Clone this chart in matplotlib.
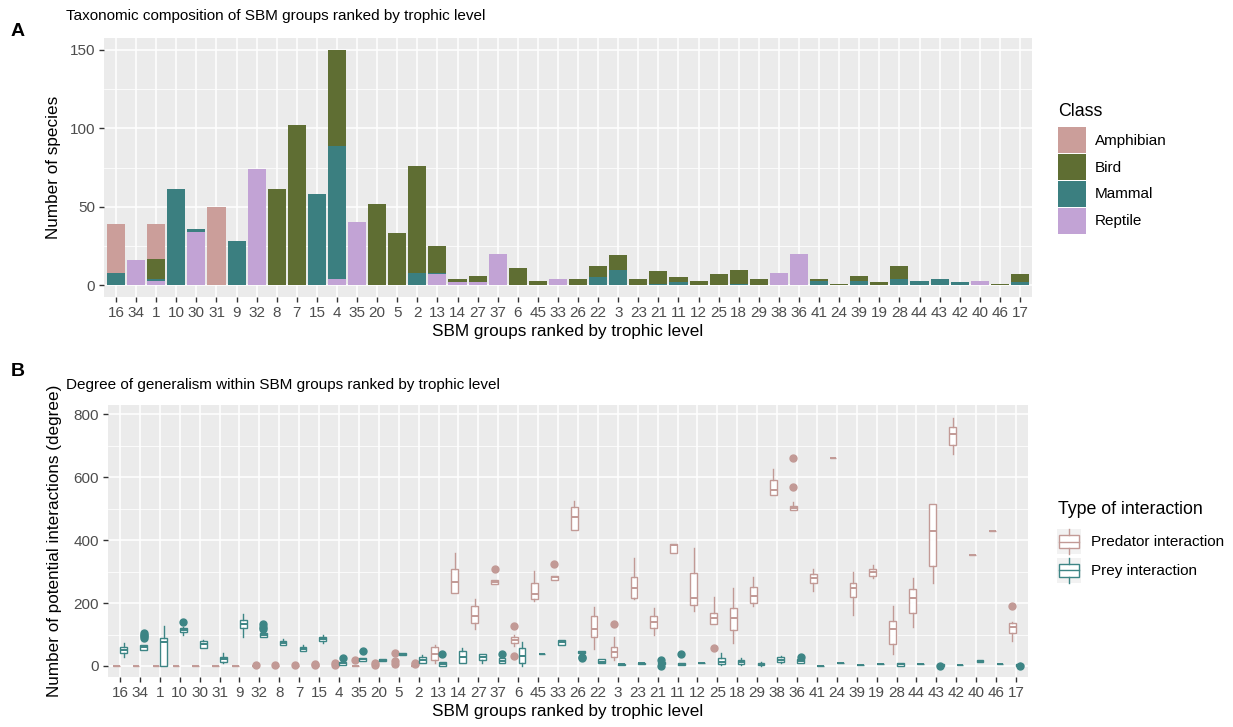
import matplotlib
matplotlib.use('Agg')
import matplotlib.pyplot as plt
from matplotlib.patches import Patch, Rectangle
from matplotlib.lines import Line2D
from matplotlib.legend_handler import HandlerBase
from matplotlib.ticker import MultipleLocator

plt.rcParams['font.family'] = ['Liberation Sans', 'DejaVu Sans']

# SBM groups ranked by trophic level
groups = ['16', '34', '1', '10', '30', '31', '9', '32', '8', '7', '15', '4', '35', '20', '5', '2',
          '13', '14', '27', '37', '6', '45', '33', '26', '22', '3', '23', '21', '11', '12', '25',
          '18', '29', '38', '36', '41', '24', '39', '19', '28', '44', '43', '42', '40', '46', '17']

# panel A: species per class
amphibian = [31, 0, 22, 0, 0, 50, 0, 0, 0, 0, 0, 0, 0, 0, 0, 0,
             0, 0, 0, 0, 0, 0, 0, 0, 0, 0, 0, 0, 0, 0, 0,
             0, 0, 0, 0, 0, 0, 0, 0, 0, 0, 0, 0, 0, 0, 0]
bird = [0, 0, 13, 0, 0, 0, 0, 0, 61, 102, 0, 61, 0, 52, 33, 68,
        17, 2, 4, 0, 11, 3, 0, 4, 7, 9, 4, 8, 3, 3, 7,
        9, 4, 0, 0, 1, 1, 3, 2, 8, 0, 0, 0, 0, 1, 5]
mammal = [8, 0, 1, 61, 2, 0, 28, 0, 0, 0, 58, 85, 0, 0, 0, 8,
          1, 0, 0, 0, 0, 0, 0, 0, 5, 10, 0, 1, 2, 0, 0,
          1, 0, 0, 0, 3, 0, 3, 0, 4, 3, 4, 2, 0, 0, 2]
reptile = [0, 16, 3, 0, 34, 0, 0, 74, 0, 0, 0, 4, 40, 0, 0, 0,
           7, 2, 2, 20, 0, 0, 4, 0, 0, 0, 0, 0, 0, 0, 0,
           0, 0, 8, 20, 0, 0, 0, 0, 0, 0, 0, 0, 3, 0, 0]

# panel B: degree boxplot stats (whisker low, q1, median, q3, whisker high, outliers)
pred_lo = [0, 0, 0, 0, 0, 0, 0, 0, 0, 0, 0, 0, 0, 0, 0, 0,
           8, 231, 117, 260, 64, 207, 275, 432, 53, 19, 212, 99, 358, 175, 134,
           74, 191, 544, 496, 237, 660, 162, 279, 38, 125, 263, 675, 353, 429, 81]
pred_q1 = [0, 0, 0, 0, 0, 0, 0, 0, 0, 0, 0, 0, 0, 0, 0, 0,
           19, 231, 138, 260, 74, 213, 275, 432, 91, 30, 215, 122, 358, 194, 134,
           114, 199, 544, 496, 263, 660, 218, 286, 70, 167, 319, 702, 353, 429, 104]
pred_med = [0, 0, 0, 0, 0, 0, 0, 0, 0, 0, 0, 0, 0, 0, 0, 0,
            38, 268, 159, 268, 83, 229, 282, 475, 118, 46, 247, 141, 385, 215, 152,
            152, 224, 559, 503, 279, 660, 247, 300, 117, 217, 429, 737, 353, 429, 125]
pred_q3 = [0, 0, 0, 0, 0, 0, 0, 0, 0, 0, 0, 0, 0, 0, 0, 0,
           59, 307, 192, 275, 91, 265, 287, 506, 159, 59, 284, 159, 388, 295, 167,
           183, 250, 591, 510, 291, 660, 263, 307, 144, 245, 514, 760, 353, 429, 136]
pred_hi = [0, 0, 0, 0, 0, 0, 0, 0, 0, 0, 0, 0, 0, 0, 0, 0,
           67, 360, 212, 275, 99, 303, 287, 525, 189, 93, 345, 183, 388, 376, 220,
           247, 284, 628, 522, 307, 660, 300, 321, 191, 279, 514, 790, 353, 429, 141]
pred_out = [[], [], [], [], [], [], [], [3], [2], [3], [2, 7], [4, 10], [20], [3, 8], [5, 15, 40], [5, 10],
            [], [], [], [307], [32, 127], [], [324], [], [], [132], [], [], [], [], [56],
            [], [], [], [570, 662], [], [], [], [], [], [], [], [], [], [], [192]]

prey_lo = [30, 51, 0, 98, 56, 8, 91, 91, 66, 48, 74, 3, 17, 17, 34, 11,
           0, 8, 8, 8, 0, 37, 67, 40, 8, 3, 5, 5, 3, 11, 3,
           3, 0, 8, 8, 1, 8, 2, 5, 0, 5, 0, 3, 12, 5, 0]
prey_q1 = [42, 51, 0, 109, 58, 13, 120, 91, 66, 48, 80, 3, 17, 17, 34, 11,
           0, 11, 19, 8, 8, 37, 67, 40, 8, 3, 5, 5, 3, 11, 5,
           5, 2, 12, 8, 1, 8, 2, 5, 0, 5, 0, 3, 12, 5, 0]
prey_med = [51, 59, 77, 113, 69, 21, 133, 98, 72, 54, 86, 8, 21, 20, 37, 19,
            5, 30, 30, 17, 33, 37, 75, 45, 14, 5, 8, 8, 5, 11, 14,
            12, 5, 20, 15, 1, 8, 2, 5, 5, 5, 2, 3, 16, 5, 2]
prey_q3 = [59, 67, 88, 120, 79, 30, 146, 106, 79, 59, 92, 14, 24, 22, 40, 28,
           14, 49, 38, 24, 56, 37, 83, 48, 21, 7, 11, 12, 8, 11, 25,
           18, 8, 28, 21, 1, 8, 2, 5, 11, 5, 6, 3, 19, 5, 6]
prey_hi = [72, 67, 128, 125, 83, 40, 164, 106, 85, 67, 98, 14, 24, 22, 40, 35,
           14, 56, 38, 24, 77, 37, 83, 48, 21, 7, 11, 14, 8, 11, 40,
           24, 14, 32, 21, 1, 8, 2, 5, 11, 5, 6, 3, 19, 5, 8]
prey_out = [[], [88, 95, 100, 106], [], [141], [], [], [], [117, 125, 132], [], [], [], [26], [49], [], [], [],
            [38], [], [], [37], [], [], [], [26, 30], [], [], [], [0, 19], [37], [], [],
            [], [], [], [30], [], [], [], [], [], [], [0], [], [], [], [0]]

class_names = ['Amphibian', 'Bird', 'Mammal', 'Reptile']
class_colors = {'Amphibian': '#CB9E9A', 'Bird': '#5F6E33', 'Mammal': '#3B7F80', 'Reptile': '#C2A3D5'}
pred_color = '#C29A96'
prey_color = '#3D8585'

W, H = 1233, 727
fig = plt.figure(figsize=(W / 100, H / 100), dpi=100)
axA = fig.add_axes([104 / W, 1 - 297 / H, 928 / W, 259 / H])
axB = fig.add_axes([108 / W, 1 - 677 / H, 920 / W, 272 / H])

TICK = 11
AXT = 12.3


def gg_style(ax):
    ax.set_facecolor('#EBEBEB')
    for s in ax.spines.values():
        s.set_visible(False)
    ax.set_axisbelow(True)
    ax.grid(True, which='major', color='white', lw=1.1)
    ax.grid(True, which='minor', axis='y', color='white', lw=0.55)
    ax.tick_params(axis='both', which='major', length=3.5, width=1.0, color='#333333',
                   labelcolor='#4D4D4D', labelsize=TICK, pad=3)
    ax.tick_params(which='minor', length=0)


x = list(range(len(groups)))

# ---- panel A: stacked bars
gg_style(axA)
bottom = [0] * len(groups)
for name, vals in [('Reptile', reptile), ('Mammal', mammal), ('Bird', bird), ('Amphibian', amphibian)]:
    axA.bar(x, vals, width=0.9, bottom=bottom, color=class_colors[name], linewidth=0)
    bottom = [b + v for b, v in zip(bottom, vals)]
axA.set_xlim(-0.6, len(groups) - 0.4)
axA.set_ylim(-7.5, 157.5)
axA.set_xticks(x)
axA.set_xticklabels(groups)
axA.yaxis.set_major_locator(MultipleLocator(50))
axA.yaxis.set_minor_locator(MultipleLocator(25))
axA.set_xlabel('SBM groups ranked by trophic level', fontsize=AXT, labelpad=3)
axA.set_ylabel('Number of species', fontsize=AXT)
axA.yaxis.set_label_coords(-0.046, 0.5)

handlesA = [Patch(facecolor=class_colors[n], edgecolor='none') for n in class_names]
legA = fig.legend(handlesA, class_names, loc='upper left', bbox_to_anchor=(1058 / W, 1 - 127 / H),
                  frameon=False, fontsize=11, handlelength=1.8, handleheight=2.25,
                  labelspacing=0.05, handletextpad=0.6, borderpad=0, borderaxespad=0)
fig.text(1058 / W, 1 - 111 / H, 'Class', fontsize=12.8, va='center', ha='left')

# ---- panel B: boxplots
gg_style(axB)


def stats(lo, q1, med, q3, hi, out):
    return [dict(whislo=a, q1=b, med=c, q3=d, whishi=e, fliers=f)
            for a, b, c, d, e, f in zip(lo, q1, med, q3, hi, out)]


def draw_boxes(ax, st, pos, color):
    ax.bxp(st, positions=pos, widths=0.34, showcaps=False, patch_artist=True,
           boxprops=dict(facecolor='white', edgecolor=color, linewidth=1.0),
           medianprops=dict(color=color, linewidth=1.4),
           whiskerprops=dict(color=color, linewidth=1.0),
           flierprops=dict(marker='o', markerfacecolor=color, markeredgecolor=color,
                           markersize=5, linestyle='none'),
           manage_ticks=False)


draw_boxes(axB, stats(pred_lo, pred_q1, pred_med, pred_q3, pred_hi, pred_out),
           [i - 0.19 for i in x], pred_color)
draw_boxes(axB, stats(prey_lo, prey_q1, prey_med, prey_q3, prey_hi, prey_out),
           [i + 0.19 for i in x], prey_color)
axB.set_xlim(-0.6, len(groups) - 0.4)
axB.set_ylim(-35, 830)
axB.set_xticks(x)
axB.set_xticklabels(groups)
axB.yaxis.set_major_locator(MultipleLocator(200))
axB.yaxis.set_minor_locator(MultipleLocator(100))
axB.set_xlabel('SBM groups ranked by trophic level', fontsize=AXT, labelpad=3)
axB.set_ylabel('Number of potential interactions (degree)', fontsize=AXT)
axB.yaxis.set_label_coords(-0.05, 0.5)


class BoxKey(HandlerBase):
    def create_artists(self, legend, orig_handle, xdescent, ydescent, width, height, fontsize, trans):
        c = orig_handle.get_edgecolor()
        bg = Rectangle((-xdescent, -ydescent), width, height, facecolor='#F2F2F2',
                       edgecolor='none', transform=trans)
        box = Rectangle((-xdescent + 0.08 * width, -ydescent + 0.25 * height), 0.84 * width,
                        0.5 * height, facecolor='white', edgecolor=c, lw=1.0, transform=trans)
        cx = -xdescent + width / 2
        med = Line2D([-xdescent + 0.08 * width, -xdescent + 0.92 * width],
                     [-ydescent + 0.5 * height] * 2, color=c, lw=1.0, transform=trans)
        w1 = Line2D([cx, cx], [-ydescent, -ydescent + 0.25 * height], color=c, lw=1.0, transform=trans)
        w2 = Line2D([cx, cx], [-ydescent + 0.75 * height, -ydescent + height], color=c, lw=1.0,
                    transform=trans)
        return [bg, box, med, w1, w2]


handlesB = [Patch(facecolor='white', edgecolor=pred_color), Patch(facecolor='white', edgecolor=prey_color)]
legB = fig.legend(handlesB, ['Predator interaction', 'Prey interaction'], loc='upper left',
                  bbox_to_anchor=(1057 / W, 1 - 529 / H), frameon=False,
                  fontsize=11, handlelength=1.6, handleheight=2.15,
                  labelspacing=0.25, handletextpad=0.6, borderpad=0, borderaxespad=0,
                  handler_map={Patch: BoxKey()})
fig.text(1058 / W, 1 - 509 / H, 'Type of interaction', fontsize=12.8, va='center', ha='left')

# titles and panel letters
fig.text(66 / W, 1 - 16 / H, 'Taxonomic composition of SBM groups ranked by trophic level',
         fontsize=11, va='center', ha='left')
fig.text(66 / W, 1 - 385 / H, 'Degree of generalism within SBM groups ranked by trophic level',
         fontsize=11, va='center', ha='left')
fig.text(11 / W, 1 - 32 / H, 'A', fontsize=14, fontweight='bold', va='center', ha='left')
fig.text(11 / W, 1 - 372 / H, 'B', fontsize=14, fontweight='bold', va='center', ha='left')

fig.savefig('out.png', dpi=100)
